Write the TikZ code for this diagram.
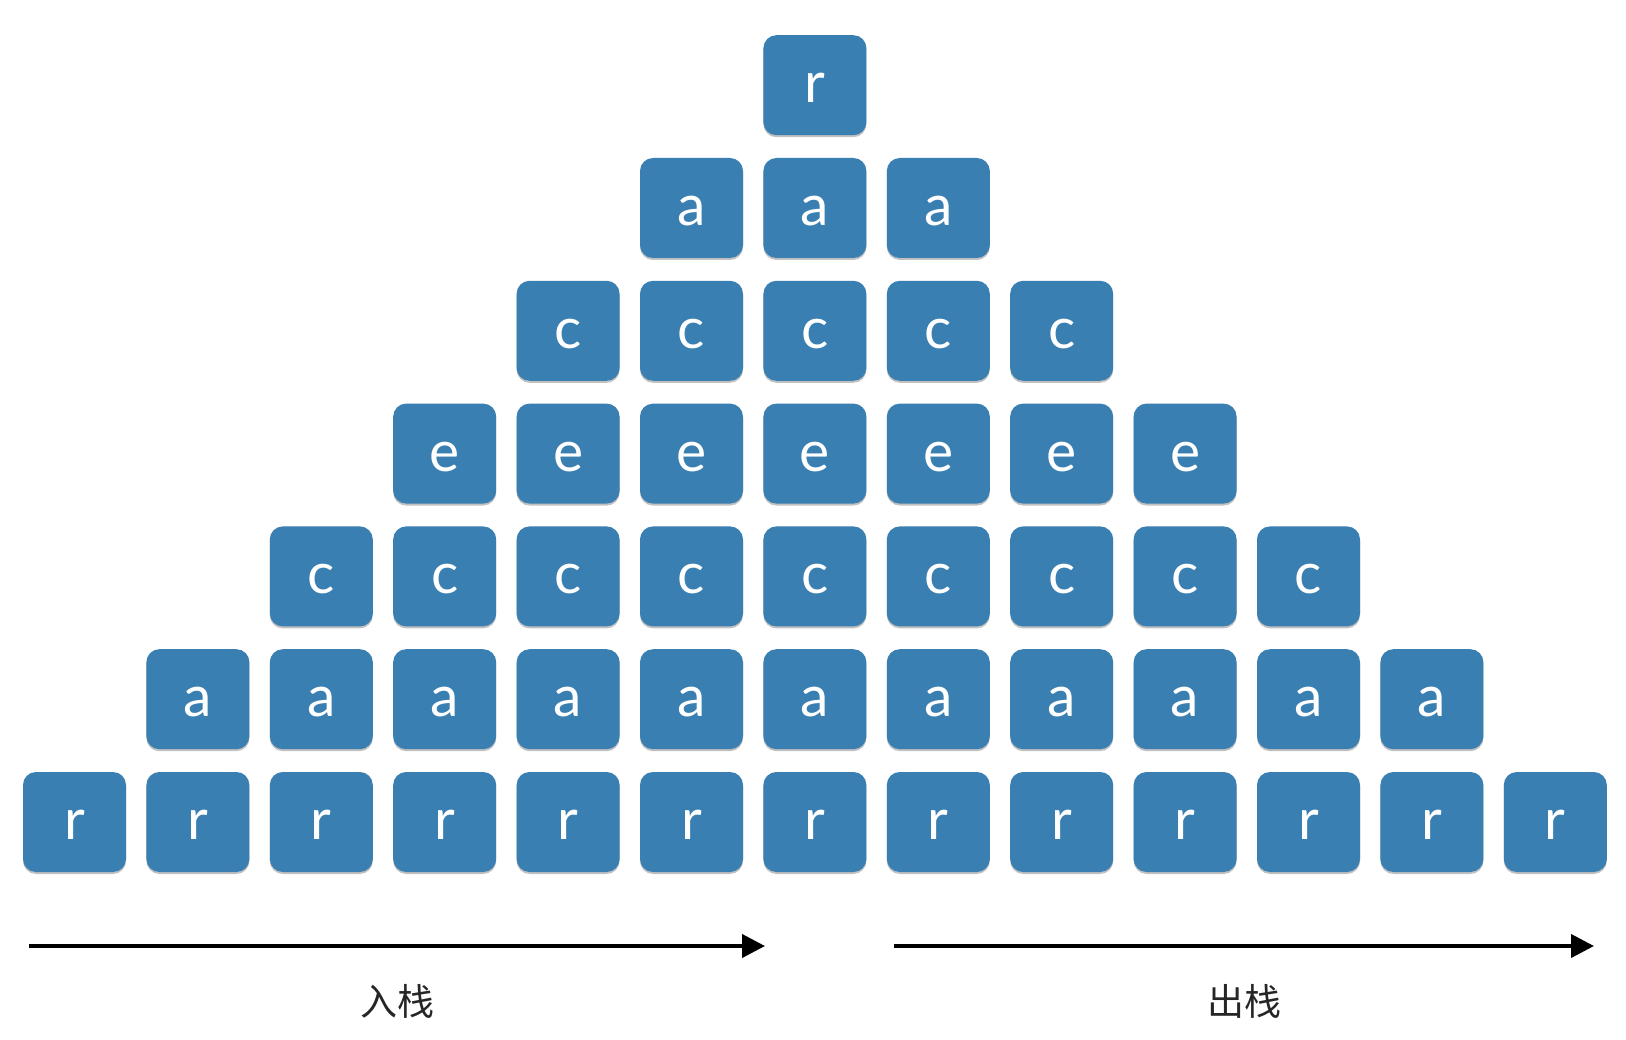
\documentclass[tikz,border=0pt]{standalone}
\usepackage{fontspec}
\setmainfont{Lato}
\newfontfamily\cjk{Noto Sans CJK SC}
\usetikzlibrary{arrows.meta,shadows}
\definecolor{tileblue}{RGB}{58,127,178}
\tikzset{
  tile/.style={fill=tileblue, draw=none, rounded corners=13pt, minimum width=103pt, minimum height=100pt,
    inner sep=0pt, text=white, font=\fontsize{57}{60}\selectfont, text height=35pt, text depth=0pt,
    drop shadow={opacity=0.3, shadow xshift=0pt, shadow yshift=-2pt, fill=black!80}},
  flow/.style={line width=4pt, -{Triangle[length=23pt,width=23pt]}},
  lbl/.style={font=\cjk\fontsize{37}{40}\selectfont, text=black!85}
}
\begin{document}
\begin{tikzpicture}[x=1pt,y=-1pt]
\useasboundingbox[fill=white] (0,0) rectangle (1626,1040);
\foreach \row/\ch in {0/r,1/a,2/c,3/e,4/c,5/a,6/r}{
  \pgfmathtruncatemacro{\last}{12-\row}
  \foreach \col in {\row,...,\last}{
    \node[tile] (b-\row-\col) at ({74.5+123.4*\col},{822-122.8*\row}) {\ch};
  }
}
\coordinate (inS) at (29,946);
\coordinate (inE) at (765,946);
\coordinate (outS) at (894,946);
\coordinate (outE) at (1594,946);
\draw[flow] (inS) -- (inE);
\draw[flow] (outS) -- (outE);
\node[lbl] (inL) at (397,1001) {入栈};
\node[lbl] (outL) at (1244,1001) {出栈};
\end{tikzpicture}
\end{document}
